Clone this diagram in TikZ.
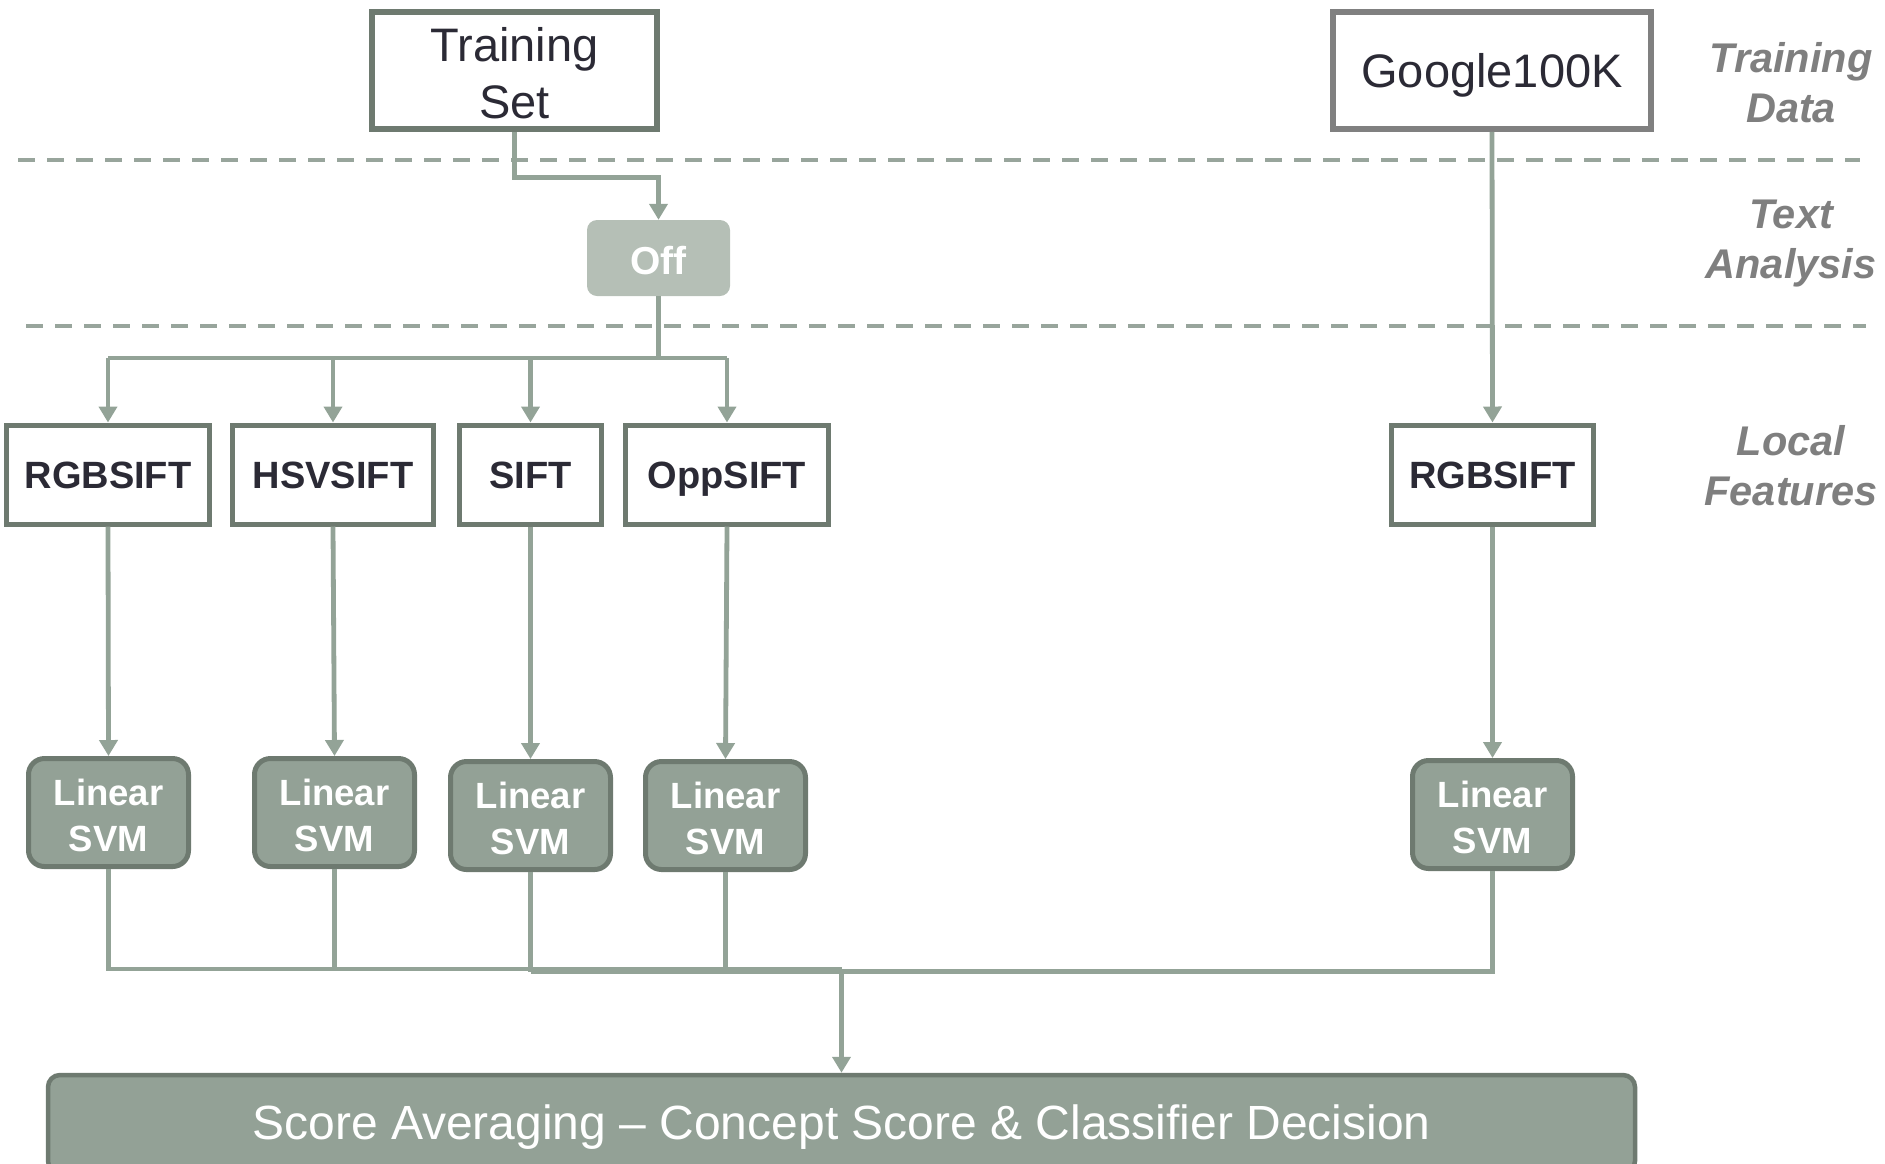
\documentclass[tikz,border=0pt]{standalone}
\usepackage{fontspec}
\setmainfont{Liberation Sans}
\usetikzlibrary{arrows.meta}
\definecolor{boxborder}{HTML}{6E7A70}
\definecolor{googlegray}{HTML}{808080}
\definecolor{conncol}{HTML}{93A397}
\definecolor{dashcol}{HTML}{98A59C}
\definecolor{svmfill}{HTML}{93A196}
\definecolor{offfill}{HTML}{B5BFB6}
\definecolor{textdark}{HTML}{2B2A35}
\definecolor{labelgray}{HTML}{7F7F7F}
\begin{document}
\begin{tikzpicture}[x=1pt,y=-1pt,
  plainbox/.style={draw=boxborder, line width=5.5pt, fill=white, inner sep=0pt, align=center, text=textdark, font=\fontsize{47}{57}\selectfont},
  featbox/.style={draw=boxborder, line width=5pt, fill=white, minimum height=99pt, inner sep=0pt, text=textdark, text height=27pt, text depth=0pt, font=\fontsize{38}{44}\selectfont\bfseries},
  svmbox/.style={draw=boxborder, line width=5pt, fill=svmfill, rounded corners=16pt, minimum width=160pt, minimum height=108pt, inner sep=0pt, align=center, text=white, text height=77pt, text depth=0pt, font=\fontsize{36.5}{46}\selectfont\bfseries},
  lab/.style={text=labelgray, align=center, inner sep=0pt, font=\fontsize{41.5}{50}\selectfont\bfseries\itshape},
  conn/.style={draw=conncol, line width=4.8pt},
  arr/.style={conn, -{Triangle[width=18pt,length=16pt]}},
  sep/.style={draw=dashcol, line width=3.5pt, dash pattern=on 17pt off 12pt}
]
\useasboundingbox (0,0) rectangle (1885,1163);

% separators
\draw[sep] (18,160) -- (1860,160);
\draw[sep] (26,326) -- (1866,326);

% labels
\node[lab] (l1) at (1791,83) {Training\\Data};
\node[lab] (l2) at (1791,244) {Text\\Analysis};
\node[lab] (l3) at (1791,465.5) {Local\\Features};

% top nodes
\node[plainbox, minimum width=285pt, minimum height=117pt, text height=96pt, text depth=0pt] (ts) at (514.5,70.5) {Training\\Set};
\node[plainbox, draw=googlegray, minimum width=318pt, minimum height=117pt, text height=34pt, text depth=0pt] (g) at (1492,70.5) {Google100K};
\node[fill=offfill, rounded corners=10pt, minimum width=143pt, minimum height=76pt, inner sep=0pt, text=white, text height=33.5pt, text depth=0pt, font=\fontsize{39}{46}\selectfont\bfseries] (off) at (658.5,258) {Off};

% features
\node[featbox, minimum width=203pt] (f1) at (108,474.5) {RGBSIFT};
\node[featbox, minimum width=201pt] (f2) at (333,474.5) {HSVSIFT};
\node[featbox, minimum width=142pt] (f3) at (530.5,474.5) {SIFT};
\node[featbox, minimum width=203pt] (f4) at (727,474.5) {OppSIFT};
\node[featbox, minimum width=202pt] (f5) at (1492.5,474.5) {RGBSIFT};

% SVMs
\node[svmbox] (s1) at (108.5,812.5) {Linear\\SVM};
\node[svmbox] (s2) at (334.5,812.5) {Linear\\SVM};
\node[svmbox] (s3) at (530.5,815.5) {Linear\\SVM};
\node[svmbox] (s4) at (725.5,815.5) {Linear\\SVM};
\node[svmbox] (s5) at (1492.5,814.5) {Linear\\SVM};

% score
\node[draw=boxborder, line width=4.5pt, fill=svmfill, rounded corners=12pt, minimum width=1587pt, minimum height=98pt, inner sep=0pt, text=white, text height=35pt, text depth=5pt, font=\fontsize{48}{56}\selectfont] (sc) at (841.5,1124) {Score Averaging -- Concept Score \& Classifier Decision};

% connectors
\coordinate (bus) at (0,358);
\coordinate (j1) at (0,969);
\coordinate (j2) at (0,971.5);

\draw[arr] (ts.south) -- ++(0,46) -| (off.north);
\draw[conn] (off.south) -- (off.south |- bus);
\draw[conn] (f1.north |- bus) -- (f4.north |- bus);
\draw[arr] (f1.north |- bus) -- (f1.north);
\draw[arr] (f2.north |- bus) -- (f2.north);
\draw[arr] (f3.north |- bus) -- (f3.north);
\draw[arr] (f4.north |- bus) -- (f4.north);
\draw[arr] (g.south) -- (f5.north);

\draw[arr] (f1.south) -- (s1.north);
\draw[arr] (f2.south) -- (s2.north);
\draw[arr] (f3.south) -- (s3.north);
\draw[arr] (f4.south) -- (s4.north);
\draw[arr] (f5.south) -- (s5.north);

\draw[conn] (s1.south) |- (sc.north |- j1);
\draw[conn] (s2.south) -- (s2.south |- j1);
\draw[conn] (s5.south) |- (s3.south |- j2);
\draw[conn] (s3.south) -- (s3.south |- j2);
\draw[conn] (s4.south) -- (s4.south |- j2);
\draw[arr] (sc.north |- j1) -- (sc.north);
\end{tikzpicture}
\end{document}
